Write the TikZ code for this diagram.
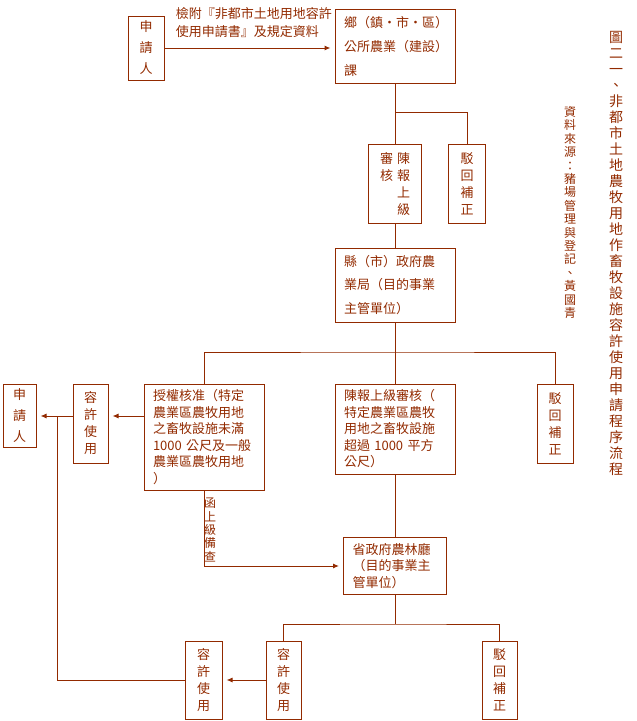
\documentclass[tikz,border=0pt]{standalone}
\usepackage{fontspec}
\setmainfont{Noto Sans CJK TC}
\usetikzlibrary{arrows.meta}
\definecolor{Rust}{HTML}{922A00}

\begin{document}
\begin{tikzpicture}[x=1pt, y=-1pt, line width=1pt, color=Rust,
    hbox/.style={draw, inner xsep=9pt, inner ysep=0pt, align=left, font=\fontsize{13}{16.5}\selectfont},
    vbox/.style={draw, inner sep=0pt, align=center, minimum width=36pt, minimum height=79pt, font=\fontsize{13}{17}\selectfont},
    arr/.style={-{Latex[length=6pt,width=5pt]}, shorten >=4pt}]
    \useasboundingbox (0,0) rectangle (637,721);

    % top row
    \node[vbox, minimum height=64pt, font=\fontsize{13}{21}\selectfont] (appl1) at (146,48) {申\\請\\人};
    \node[hbox, text width=102pt, minimum height=74pt, font=\fontsize{13}{24}\selectfont] (town) at (395,46) {鄉（鎮・市・區）\\公所農業（建設）\\課};
    \node[anchor=west, align=left, font=\fontsize{13}{18}\selectfont] (doc) at (172,23) {檢附『非都市土地用地容許\\使用申請書』及規定資料};
    \draw[arr] (appl1.east) -- (appl1.east -| town.west);

    \node[vbox, minimum width=53pt] (report1) at (395,184) {\parbox[t]{13pt}{\centering 審\\核}\hspace{4pt}\parbox[t]{13pt}{\centering 陳\\報\\上\\級}};
    \node[vbox, minimum width=37pt] (reject1) at (467,184) {駁\\回\\補\\正};
    \coordinate (j1) at (395,112);
    \draw (town.south) -- (report1.north);
    \draw (j1) -| (reject1.north);

    \node[hbox, text width=102pt, minimum height=74pt, font=\fontsize{13}{23.5}\selectfont] (county) at (395,285) {縣（市）政府農\\業局（目的事業\\主管單位）};
    \draw (report1.south) -- (county.north);

    % second level
    \coordinate (j2) at (395,352);
    \node[hbox, text width=102pt, minimum height=106pt] (grant) at (204,437) {授權核准（特定\\農業區農牧用地\\之畜牧設施未滿\\1000 公尺及一般\\農業區農牧用地\\）};
    \node[hbox, text width=102pt, minimum height=90pt] (report2) at (395,429) {陳報上級審核（\\特定農業區農牧\\用地之畜牧設施\\超過 1000 平方\\公尺）};
    \node[vbox] (reject2) at (555,423.5) {駁\\回\\補\\正};
    \node[vbox, minimum width=35pt] (permit1) at (90.5,423.5) {容\\許\\使\\用};
    \node[vbox, minimum width=33pt, minimum height=63pt, font=\fontsize{13}{21}\selectfont] (appl2) at (19.5,416) {申\\請\\人};
    \draw (county.south) -- (report2.north);
    \draw (grant.north) |- (j2) -| (reject2.north);
    \draw[arr] (grant.west |- appl2.east) -- (permit1.east |- appl2.east);
    \draw[arr] (permit1.west |- appl2.east) -- (appl2.east);
    \coordinate (back) at (57,416);

    % provincial level
    \node[hbox, text width=85pt, minimum height=57pt] (prov) at (395,566) {省政府農林廳\\（目的事業主\\管單位）};
    \node[align=center, font=\fontsize{12}{13.3}\selectfont] (notice) at (210,530) {函\\上\\級\\備\\查};
    \draw (report2.south) -- (prov.north);
    \draw[arr] (grant.south) |- (prov.west);

    \coordinate (j3) at (395,624);
    \node[vbox, minimum width=35pt, minimum height=78pt] (permit2) at (283.5,680) {容\\許\\使\\用};
    \node[vbox, minimum width=35pt, minimum height=78pt] (reject3) at (499.5,680) {駁\\回\\補\\正};
    \node[vbox, minimum width=37pt, minimum height=78pt] (permit3) at (203.5,680) {容\\許\\使\\用};
    \draw (prov.south) -- (j3);
    \draw (permit2.north) |- (j3) -| (reject3.north);
    \draw[arr] (permit2.west) -- (permit3.east);
    \draw (permit3.west) -| (back);

    % title and source
    \node[align=center, font=\fontsize{14}{16}\selectfont] (title) at (616,253) {圖\\二\\一\\、\\非\\都\\市\\土\\地\\農\\牧\\用\\地\\作\\畜\\牧\\設\\施\\容\\許\\使\\用\\申\\請\\程\\序\\流\\程};
    \node[align=center, font=\fontsize{12}{13.4}\selectfont] (source) at (570,212.5) {資\\料\\來\\源\\：\\豬\\場\\管\\理\\與\\登\\記\\、\\黃\\國\\青};
\end{tikzpicture}
\end{document}
